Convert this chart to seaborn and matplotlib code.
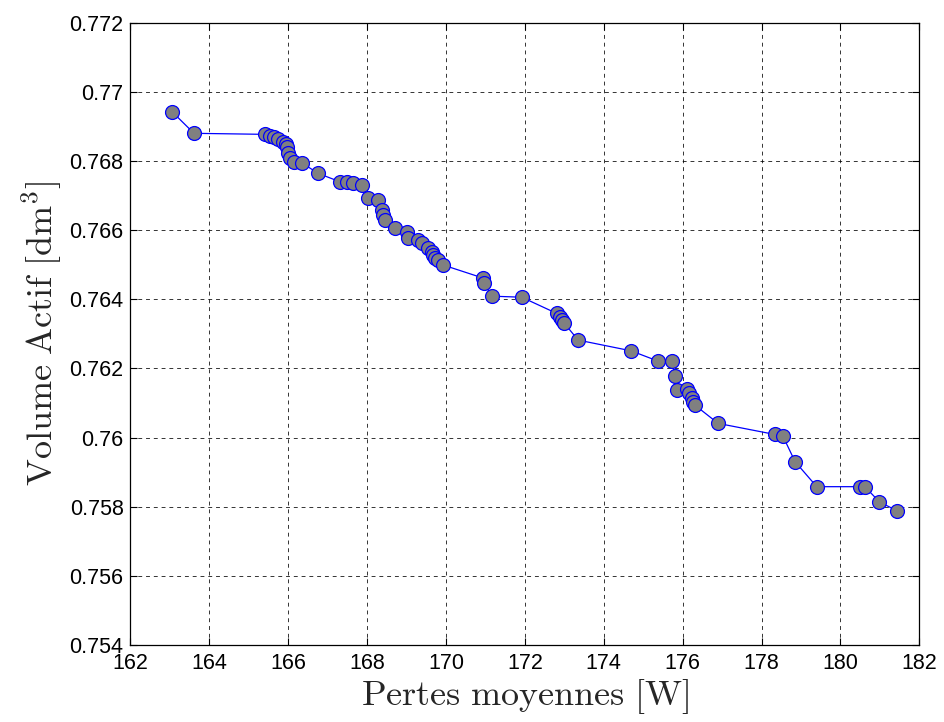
"""
Pareto front: volume actif vs pertes moyennes (MATLAB-style figure).
"""
import numpy as np
import pandas as pd
import matplotlib
matplotlib.use("Agg")
import matplotlib.pyplot as plt
import seaborn as sns

# ── data ────────────────────────────────────────────────
pertes = [163.05, 163.61, 165.41, 165.54, 165.64, 165.75, 165.86, 165.94,
          165.98, 166.00, 166.04, 166.15, 166.34, 166.76, 167.31, 167.48,
          167.65, 167.86, 168.03, 168.28, 168.37, 168.41, 168.45, 168.71,
          169.02, 169.04, 169.30, 169.38, 169.55, 169.64, 169.68, 169.72,
          169.80, 169.93, 170.95, 170.97, 171.16, 171.92, 172.81, 172.89,
          172.93, 172.99, 173.35, 173.35, 174.69, 175.38, 175.72, 175.81,
          175.85, 176.10, 176.17, 176.23, 176.27, 176.31, 176.90, 178.34,
          178.54, 178.85, 178.85, 179.40, 180.50, 180.62, 180.99, 181.44]
volume = [0.76943, 0.76880, 0.76877, 0.76873, 0.76869, 0.76863, 0.76856, 0.76849,
          0.76840, 0.76822, 0.76808, 0.76796, 0.76795, 0.76764, 0.76740, 0.76740,
          0.76737, 0.76731, 0.76692, 0.76687, 0.76658, 0.76644, 0.76629, 0.76605,
          0.76595, 0.76576, 0.76571, 0.76562, 0.76547, 0.76538, 0.76528, 0.76519,
          0.76514, 0.76499, 0.76461, 0.76446, 0.76409, 0.76406, 0.76359, 0.76350,
          0.76340, 0.76332, 0.76306, 0.76258, 0.76251, 0.76221, 0.76221, 0.76178,
          0.76138, 0.76140, 0.76128, 0.76114, 0.76104, 0.76094, 0.76041, 0.76009,
          0.76005, 0.75940, 0.75921, 0.75858, 0.75858, 0.75858, 0.75814, 0.75788]

x_ticks = np.arange(162, 183, 2)
y_ticks = [0.754, 0.756, 0.758, 0.76, 0.762, 0.764, 0.766, 0.768, 0.77, 0.772]
y_tick_labels = ["0.754", "0.756", "0.758", "0.76", "0.762", "0.764",
                 "0.766", "0.768", "0.77", "0.772"]

df = pd.DataFrame({"pertes": pertes, "volume": volume})

# ── style ───────────────────────────────────────────────
sns.set_theme(style="white")
plt.rcParams["font.family"] = ["Liberation Sans", "DejaVu Sans"]
plt.rcParams["mathtext.fontset"] = "cm"

fig = plt.figure(figsize=(9.44, 7.22), dpi=100)
ax = fig.add_axes([0.1382, 0.1066, 0.8356, 0.862])

sns.lineplot(data=df, x="pertes", y="volume", sort=False, ax=ax,
             color="blue", linewidth=0.9, marker="o", markersize=10,
             markerfacecolor="#808080", markeredgecolor="blue",
             markeredgewidth=0.9)

ax.set_xlim(162, 182)
ax.set_ylim(0.754, 0.772)
ax.set_xticks(x_ticks)
ax.set_yticks(y_ticks)
ax.set_yticklabels(y_tick_labels)

ax.grid(True, color="black", linestyle=(0, (4, 4)), linewidth=0.7, alpha=0.8)
ax.tick_params(direction="in", length=5, width=0.8, labelsize=15.5,
               top=True, right=True, bottom=True, left=True, colors="black")
ax.tick_params(axis="x", pad=6)
ax.tick_params(axis="y", pad=5)
for s in ax.spines.values():
    s.set_color("black")
    s.set_linewidth(0.9)

ax.set_xlabel(r"$\mathrm{Pertes\ moyennes\ [W]}$", fontsize=26, labelpad=2)
ax.set_ylabel(r"$\mathrm{Volume\ Actif\ [dm^3]}$", fontsize=26, labelpad=4)

plt.savefig("out.png", dpi=100)
